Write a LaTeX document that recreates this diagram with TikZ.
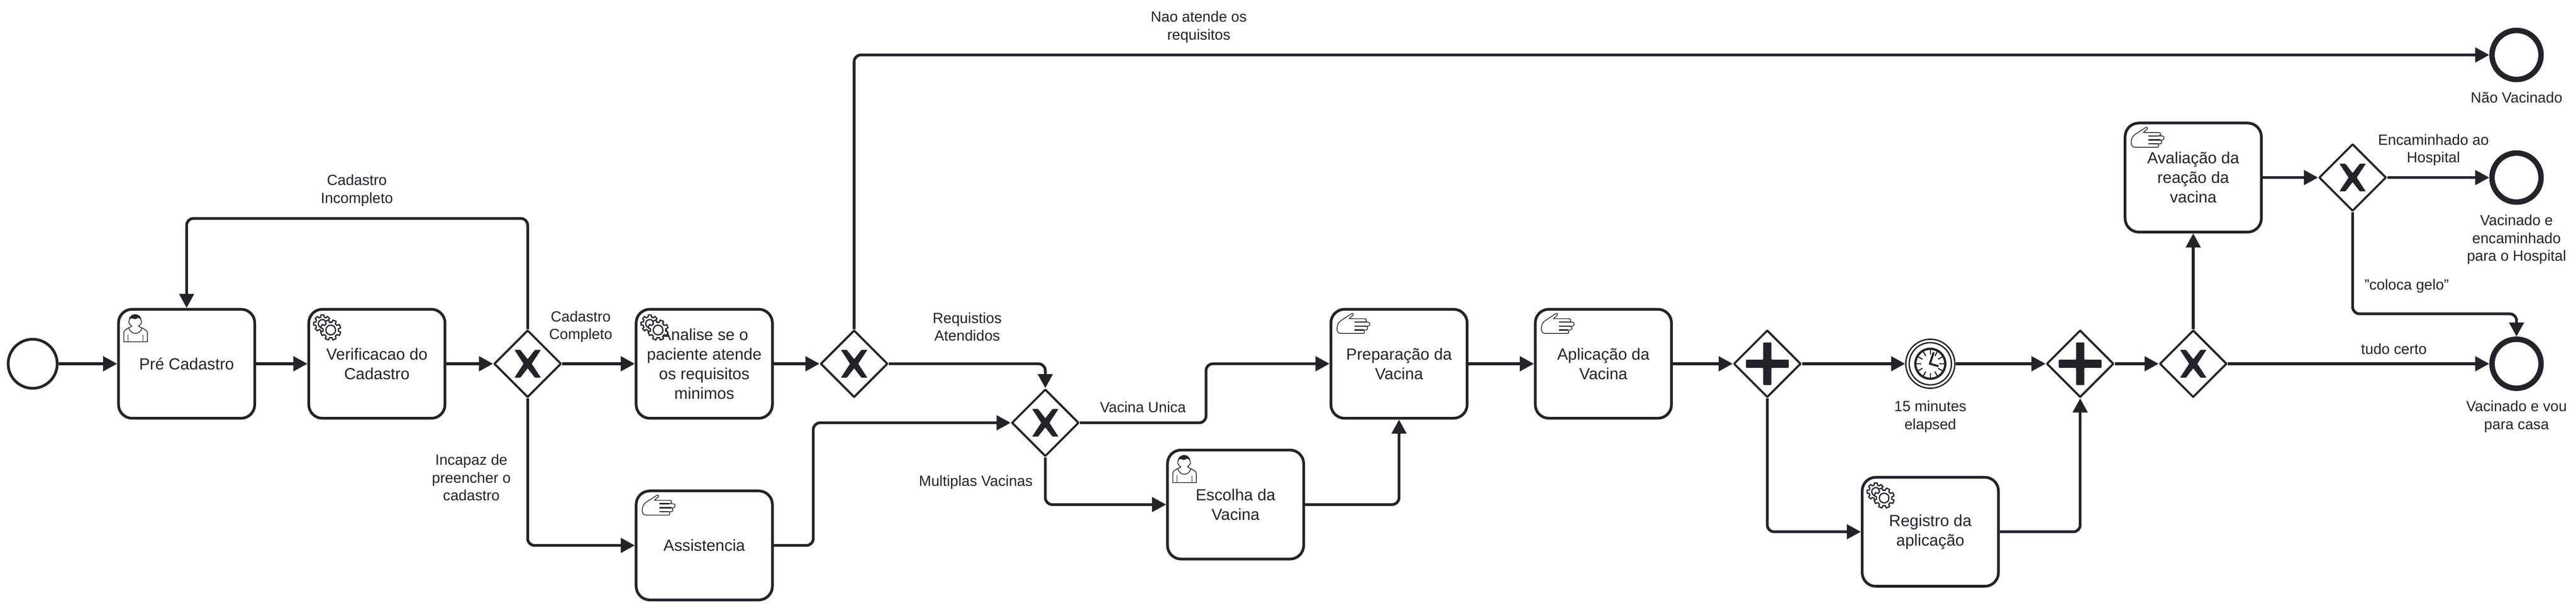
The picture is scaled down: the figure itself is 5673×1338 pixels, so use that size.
\documentclass[tikz,border=0pt]{standalone}
\usepackage{fontspec}
\setmainfont{Liberation Sans}
\usetikzlibrary{arrows.meta,shapes.geometric,calc}
\definecolor{ink}{HTML}{22242A}
\tikzset{
  every node/.style={text=ink},
  taskbox/.style={draw=ink,fill=white,line width=6pt,rounded corners=30pt,minimum width=300pt,minimum height=240pt,inner sep=0pt,align=center,font=\fontsize{35.5}{43}\selectfont},
  gate/.style={diamond,draw=ink,fill=white,line width=4.5pt,line join=round,minimum width=148pt,minimum height=148pt,inner sep=0pt,aspect=1},
  startev/.style={circle,draw=ink,fill=white,line width=6pt,minimum size=108pt,inner sep=0pt},
  endev/.style={circle,draw=ink,fill=white,line width=12pt,minimum size=108pt,inner sep=0pt},
  timerev/.style={circle,draw=ink,fill=white,line width=3pt,minimum size=108pt,inner sep=0pt},
  lbl/.style={align=center,inner sep=0pt,yshift=-1pt,font=\fontsize{32.5}{39}\selectfont},
  mline/.style={lbl,yshift=-1.5pt},
  flow/.style={draw=ink,line width=6pt,rounded corners=15pt,-{Triangle[length=31pt,width=32pt]}},
  thin icon/.style={draw=ink,line width=1.6pt,line join=round}
}
\newcommand\usericon[1]{%
  \begin{scope}[shift={(#1.center)}]
    \draw[thin icon,fill=white] (-138.3,-48.3) -- (-138.3,-68.3) .. controls (-138.3,-74) and (-130,-78) .. (-120.3,-82.7)
      .. controls (-128,-88) and (-128,-92) .. (-126.7,-95) arc[start angle=180,end angle=360,x radius=13.3,y radius=13.3]
      .. controls (-98.5,-92) and (-99,-88) .. (-106,-82.7) .. controls (-97,-78) and (-86.3,-74) .. (-86.3,-68.3) -- (-86.3,-48.3) -- cycle;
    \fill[ink] (-126.7,-95) arc[start angle=180,end angle=360,x radius=13.3,y radius=13.3]
      .. controls (-102,-99) and (-105,-101.5) .. (-107.7,-100.7) .. controls (-110,-99.5) and (-112,-98) .. (-114.3,-98.3)
      .. controls (-118,-99) and (-121,-101) .. (-122.7,-100) .. controls (-125,-99) and (-126,-97) .. (-126.7,-95) -- cycle;
    \draw[thin icon] (-127.7,-80) .. controls (-125,-70) and (-118,-66.7) .. (-112.7,-66.7) .. controls (-106,-66.7) and (-100,-71) .. (-98.3,-80);
    \draw[thin icon] (-129.3,-65) -- (-129.3,-48.3) (-96,-64) -- (-96,-48.3);
  \end{scope}}
\newcommand\handicon[1]{%
  \begin{scope}[shift={(#1.center)}]
    \draw[thin icon,fill=white] (-110,-99.3) -- (-101,-107) .. controls (-100,-110) and (-102,-112) .. (-105,-110)
      -- (-128,-95) .. controls (-134,-91) and (-136.7,-85) .. (-136.7,-76.7) .. controls (-136.7,-70) and (-133,-66.7) .. (-128.3,-66.7)
      -- (-78.3,-66.7) .. controls (-75.5,-66.7) and (-75.5,-74.3) .. (-78.3,-74.3)
      -- (-72.7,-74.3) .. controls (-68,-74.3) and (-68,-82.7) .. (-72.7,-82.7)
      -- (-68.3,-82.7) .. controls (-63,-82.7) and (-63,-91.7) .. (-68.3,-91.7)
      -- (-76.7,-91.7) .. controls (-70,-91.7) and (-70,-99.3) .. (-76.7,-99.3) -- cycle;
    \draw[ink,line width=2.8pt] (-98.3,-91.7) -- (-76.7,-91.7) (-98.3,-82.7) -- (-72.7,-82.7) (-98.3,-74.3) -- (-78.3,-74.3);
  \end{scope}}
\newcommand\gearicon[1]{%
  \begin{scope}[shift={(#1.center)},draw=ink,line width=2.7pt,line join=round]
    \begin{scope}[shift={(-120,-88.3)}]
      \filldraw[fill=white] (-10:19.5) \foreach \a in {0,45,...,315}{ -- (\a-10:19.5) -- (\a+10:19.5) -- (\a+14:15) -- (\a+31:15)} -- cycle;
      \draw (0,0) circle[radius=9];
    \end{scope}
    \begin{scope}[shift={(-101.7,-74.3)}]
      \filldraw[fill=white] (12.5:22.5) \foreach \a in {22.5,67.5,...,337.5}{ -- (\a-10:22.5) -- (\a+10:22.5) -- (\a+14:17) -- (\a+31:17)} -- cycle;
      \draw (0,0) circle[radius=10.7];
    \end{scope}
  \end{scope}}
\begin{document}
\begin{tikzpicture}[x=1pt,y=-1pt]
\fill[white,use as bounding box] (0,-1) rectangle (5673,1337);
% events
\node[startev] (start) at (72,800) {};
\node[endev] (endno) at (5542,120) {};
\node[endev] (endhosp) at (5542,390) {};
\node[endev] (endhome) at (5542,800) {};
\node[timerev] (timer) at (4251,800) {};
% tasks
\node[taskbox] (pre) at (411,800) {Pré Cadastro};
\node[taskbox] (ver) at (830,800) {Verificacao do\\Cadastro};
\node[taskbox] (ana) at (1551,800) {Analise se o\\paciente atende\\os requisitos\\minimos};
\node[taskbox] (ass) at (1551,1200) {Assistencia};
\node[taskbox] (esc) at (2721,1110) {Escolha da\\Vacina};
\node[taskbox] (prep) at (3081,800) {Preparação da\\Vacina};
\node[taskbox] (apl) at (3531,800) {Aplicação da\\Vacina};
\node[taskbox] (reg) at (4251,1170) {Registro da\\aplicação};
\node[taskbox] (ava) at (4830,390) {Avaliação da\\reação da\\vacina};
% gateways
\node[gate] (g1) at (1162,800) {};
\node[gate] (g2) at (1881,800) {};
\node[gate] (g3) at (2302,930) {};
\node[gate] (g4) at (3892,800) {};
\node[gate] (g5) at (4581,800) {};
\node[gate] (g6) at (4830,800) {};
\node[gate] (g7) at (5181,390) {};
\foreach \g in {g1,g2,g3,g6,g7}{
  \fill[ink,shift={(\g.center)},rounded corners=1pt] (-29,-30.5) -- (-16,-30.5) -- (0,-10) -- (16,-30.5) -- (29,-30.5) -- (9,0) -- (29,30.5) -- (16,30.5) -- (0,10) -- (-16,30.5) -- (-29,30.5) -- (-9,0) -- cycle;
}
\foreach \g in {g4,g5}{
  \fill[ink,shift={(\g.center)},rounded corners=1.5pt] (-9,-47) -- (9,-47) -- (9,-9) -- (47,-9) -- (47,9) -- (9,9) -- (9,47) -- (-9,47) -- (-9,9) -- (-47,9) -- (-47,-9) -- (-9,-9) -- cycle;
}
% timer
\begin{scope}[shift={(timer.center)},draw=ink]
  \draw[line width=3pt] (0,0) circle[radius=46.5];
  \draw[line width=5pt,fill=white] (0,0) circle[radius=33];
  \foreach \a in {0,30,...,330}{\draw[line width=2.5pt] (\a:20) -- (\a:31);}
  \draw[line width=4.5pt,line cap=round,line join=round] (7,-24) -- (-1,0) -- (17,5);
\end{scope}
% icons
\usericon{pre}\usericon{esc}
\gearicon{ver}\gearicon{ana}\gearicon{reg}
\handicon{ass}\handicon{prep}\handicon{apl}\handicon{ava}
% waypoints
\coordinate (loopc) at (411,480);
\coordinate (vaU) at (2656,800);
\coordinate (assU) at (1791,930);
\coordinate (geloc) at (5542,690);
% flows
\draw[flow] (start) -- (pre);
\draw[flow] (pre) -- (ver);
\draw[flow] (ver) -- (g1.west);
\draw[flow] (g1.north) |- (loopc) -- (pre.north);
\draw[flow] (g1.east) -- (ana.west);
\draw[flow] (g1.south) |- (ass.west);
\draw[flow] (ana.east) -- (g2.west);
\draw[flow] (g2.north) |- (endno.west);
\draw[flow] (g2.east) -| (g3.north);
\draw[flow] (ass.east) -| (assU) -- (g3.west);
\draw[flow] (g3.east) -| (vaU) -- (prep.west);
\draw[flow] (g3.south) |- (esc.west);
\draw[flow] (esc.east) -| (prep.south);
\draw[flow] (prep.east) -- (apl.west);
\draw[flow] (apl.east) -- (g4.west);
\draw[flow] (g4.east) -- (timer.west);
\draw[flow] (g4.south) |- (reg.west);
\draw[flow] (timer.east) -- (g5.west);
\draw[flow] (reg.east) -| (g5.south);
\draw[flow] (g5.east) -- (g6.west);
\draw[flow] (g6.north) -- (ava.south);
\draw[flow] (g6.east) -- (endhome.west);
\draw[flow] (ava.east) -- (g7.west);
\draw[flow] (g7.east) -- (endhosp.west);
\draw[flow] (g7.south) |- (geloc) -- (endhome.north);
% labels
\node[mline] (l1) at (786,416) {Cadastro\\Incompleto};
\node[mline] (l2) at (1279,716) {Cadastro\\Completo};
\node[mline] (l3) at (1038,1048) {Incapaz de\\preencher o\\cadastro};
\node[mline] (l4) at (2640,56) {Nao atende os\\requisitos};
\node[mline] (l5) at (2130,716) {Requistios\\Atendidos};
\node[lbl] (l6) at (2517,895) {Vacina Unica};
\node[lbl] (l7) at (2149,1060) {Multiplas Vacinas};
\node[mline] (l8) at (4251,914) {15 minutes\\elapsed};
\node[mline] (l9) at (5359,327) {Encaminhado ao\\Hospital};
\node[lbl] (l10) at (5300,628) {"coloca gelo"};
\node[lbl] (l11) at (5272,766) {tudo certo};
\node[lbl] (l12) at (5542,213) {Não Vacinado};
\node[mline] (l13) at (5542,524) {Vacinado e\\encaminhado\\para o Hospital};
\node[mline] (l14) at (5542,914) {Vacinado e vou\\para casa};
\end{tikzpicture}
\end{document}
